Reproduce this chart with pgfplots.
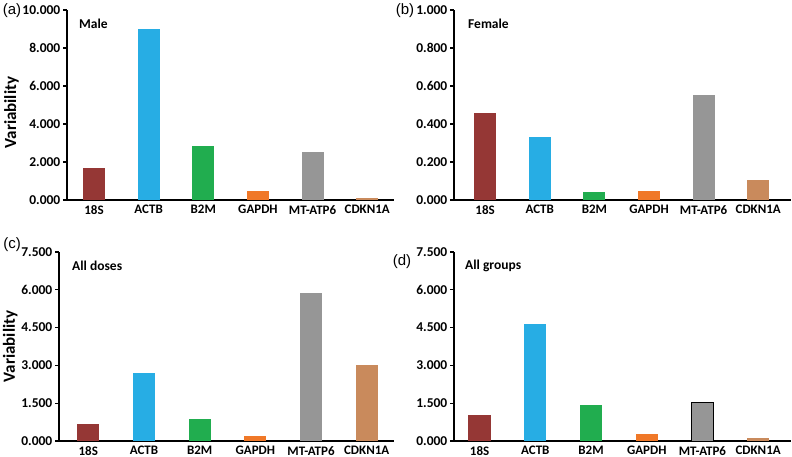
\documentclass[border=0pt]{standalone}
\usepackage{pgfplots}
\pgfplotsset{compat=1.18}
\usepackage{fontspec}
\setmainfont{Carlito}
\newfontfamily\arialish{Liberation Sans}
\definecolor{c18S}{HTML}{953735}
\definecolor{cACTB}{HTML}{27ADE4}
\definecolor{cB2M}{HTML}{21AD4F}
\definecolor{cGAPDH}{HTML}{F07828}
\definecolor{cMT}{HTML}{969696}
\definecolor{cCDK}{HTML}{C98A5C}
\pgfplotsset{
  panel/.style={
    scale only axis,
    axis lines=left,
    axis line style={-, line width=1.1bp, black},
    ymin=0,
    xtick={0,1,2,3,4,5},
    xticklabels={18S,ACTB,B2M,GAPDH,MT-ATP6,CDKN1A},
    xtick style={draw=none},
    ytick pos=left,
    tick align=outside,
    major tick length=4bp,
    ytick style={line width=1.1bp, black},
    yticklabel style={font=\fontsize{13.5bp}{15bp}\selectfont\bfseries, inner sep=2.5bp},
    xticklabel style={font=\fontsize{13bp}{15bp}\selectfont\bfseries, inner sep=0.5bp, yshift=-0.5bp},
    ylabel style={font=\fontsize{17bp}{19bp}\selectfont\bfseries, inner sep=1bp},
    anchor=south west,
    clip=false,
  },
  bb/.style={ybar, bar shift=0pt, bar width=0.4, draw=none},
}
\begin{document}
\begin{tikzpicture}[x=1bp,y=1bp]
\path[use as bounding box] (0,0) rectangle (792,457);
% (a)
\begin{axis}[panel, at={(67bp,257bp)}, width=327bp, height=190bp,
  xmin=-0.495, xmax=5.49, ymax=10,
  ytick={0,2,4,6,8,10},
  yticklabels={0.000,2.000,4.000,6.000,8.000,10.000},
  ylabel={Variability}, ylabel style={at={(ticklabel cs:0.46)}}]
\addplot[bb, fill=c18S] coordinates {(0,1.67)};
\addplot[bb, fill=cACTB] coordinates {(1,8.98)};
\addplot[bb, fill=cB2M] coordinates {(2,2.84)};
\addplot[bb, fill=cGAPDH] coordinates {(3,0.47)};
\addplot[bb, fill=cMT] coordinates {(4,2.53)};
\addplot[bb, fill=cCDK] coordinates {(5,0.10)};
\end{axis}
% (b)
\begin{axis}[panel, at={(454bp,257bp)}, width=337bp, height=190bp,
  xmin=-0.57, xmax=5.6, ymax=1,
  ytick={0,0.2,0.4,0.6,0.8,1},
  yticklabels={0.000,0.200,0.400,0.600,0.800,1.000}]
\addplot[bb, fill=c18S] coordinates {(0,0.459)};
\addplot[bb, fill=cACTB] coordinates {(1,0.332)};
\addplot[bb, fill=cB2M] coordinates {(2,0.042)};
\addplot[bb, fill=cGAPDH] coordinates {(3,0.047)};
\addplot[bb, fill=cMT] coordinates {(4,0.553)};
\addplot[bb, fill=cCDK] coordinates {(5,0.105)};
\end{axis}
% (c)
\begin{axis}[panel, at={(59bp,16bp)}, width=335bp, height=189bp,
  xmin=-0.526, xmax=5.49, ymax=7.5,
  ytick={0,1.5,3,4.5,6,7.5},
  yticklabels={0.000,1.500,3.000,4.500,6.000,7.500},
  ylabel={Variability}]
\addplot[bb, fill=c18S] coordinates {(0,0.66)};
\addplot[bb, fill=cACTB] coordinates {(1,2.71)};
\addplot[bb, fill=cB2M] coordinates {(2,0.855)};
\addplot[bb, fill=cGAPDH] coordinates {(3,0.21)};
\addplot[bb, fill=cMT] coordinates {(4,5.89)};
\addplot[bb, fill=cCDK] coordinates {(5,3.00)};
\end{axis}
% (d)
\begin{axis}[panel, at={(454bp,16bp)}, width=337bp, height=189bp,
  xmin=-0.46, xmax=5.59, ymax=7.5,
  ytick={0,1.5,3,4.5,6,7.5},
  yticklabels={0.000,1.500,3.000,4.500,6.000,7.500}]
\addplot[bb, fill=c18S] coordinates {(0,1.05)};
\addplot[bb, fill=cACTB] coordinates {(1,4.64)};
\addplot[bb, fill=cB2M] coordinates {(2,1.42)};
\addplot[bb, fill=cGAPDH] coordinates {(3,0.26)};
\addplot[bb, fill=cMT, draw=black, line width=0.8bp] coordinates {(4,1.55)};
\addplot[bb, fill=cCDK] coordinates {(5,0.10)};
\end{axis}
% panel letters and titles
\node[font=\arialish\fontsize{15bp}{17bp}\selectfont] at (12,446) {(a)};
\node[font=\arialish\fontsize{15bp}{17bp}\selectfont] at (405,446) {(b)};
\node[font=\arialish\fontsize{15bp}{17bp}\selectfont] at (12,212) {(c)};
\node[font=\arialish\fontsize{15bp}{17bp}\selectfont] at (402,195) {(d)};
\node[anchor=west, inner sep=0, font=\fontsize{13.5bp}{15bp}\selectfont\bfseries] at (79,433) {Male};
\node[anchor=west, inner sep=0, font=\fontsize{13.5bp}{15bp}\selectfont\bfseries] at (468,433) {Female};
\node[anchor=west, inner sep=0, font=\fontsize{13.5bp}{15bp}\selectfont\bfseries] at (72,191) {All doses};
\node[anchor=west, inner sep=0, font=\fontsize{13.5bp}{15bp}\selectfont\bfseries] at (465,191) {All groups};
\end{tikzpicture}
\end{document}
